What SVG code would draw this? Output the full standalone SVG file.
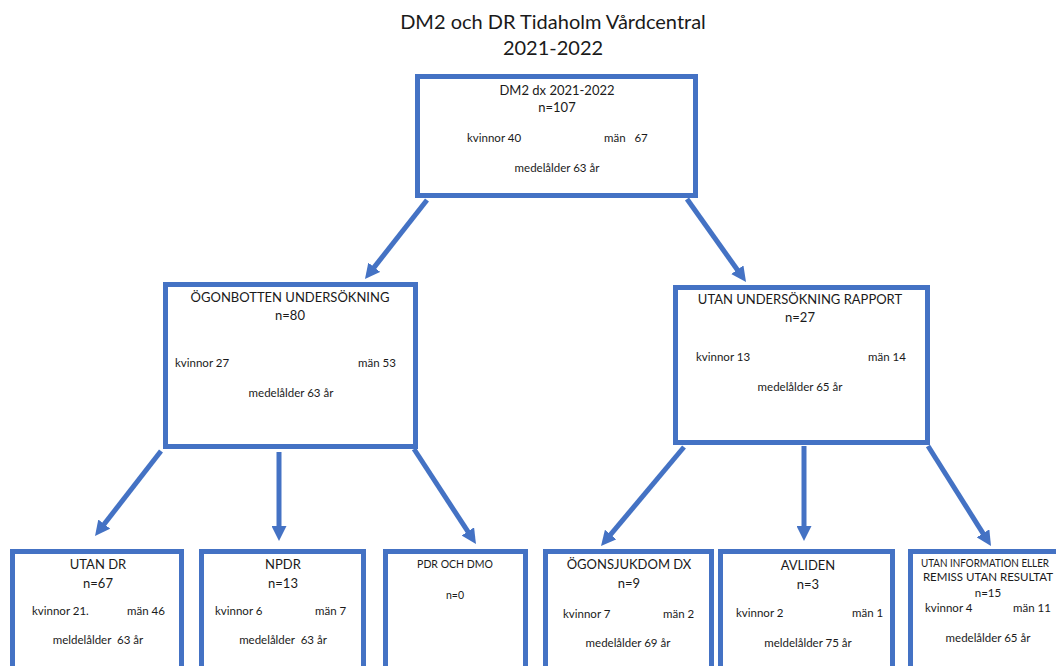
<svg xmlns="http://www.w3.org/2000/svg" width="1056" height="666" viewBox="0 0 1056 666">
<style>
.box{fill:#fff;stroke:#4472C4;stroke-width:5}
.t{font-family:Lato,"Open Sans","Liberation Sans",sans-serif;fill:#1a1a1a;white-space:pre}
.c{text-anchor:middle}
.s{font-size:11.5px}
.m{font-size:13px}
.conn{stroke:#4472C4;stroke-width:5;fill:none;marker-end:url(#ah)}
</style>
<defs>
<marker id="ah" viewBox="0 0 10 10" refX="1" refY="5" markerWidth="3" markerHeight="3" orient="auto" markerUnits="strokeWidth">
<path d="M0,0 L10,5 L0,10 z" fill="#4472C4"/>
</marker>
</defs>
<rect width="1056" height="666" fill="#fff"/>
<g id="title">
<text class="t c" x="553" y="29" font-size="20">DM2 och DR Tidaholm Vårdcentral</text>
<text class="t c" x="553" y="55" font-size="20">2021-2022</text>
</g>
<g id="connectors">
<path class="conn" d="M427,200 L373.3,268.4"/>
<path class="conn" d="M687,199 L738.2,271"/>
<path class="conn" d="M161,451 L103.3,525.3"/>
<path class="conn" d="M279,452 L279,527.5"/>
<path class="conn" d="M414,449 L468.6,532.7"/>
<path class="conn" d="M684,447 L609.7,535.7"/>
<path class="conn" d="M804,446 L804,527.5"/>
<path class="conn" d="M928,446 L983.8,534.6"/>
</g>
<g id="n-root">
<rect class="box" x="417.5" y="76.5" width="278" height="119"/>
<text class="t c m" x="557" y="95">DM2 dx 2021-2022</text>
<text class="t c m" x="557" y="112">n=107</text>
<text class="t s" x="467" y="142">kvinnor 40</text>
<text class="t s" x="604" y="142">män   67</text>
<text class="t c s" x="557" y="172">medelålder 63 år</text>
</g>
<g id="n-ogon">
<rect class="box" x="165.5" y="284.5" width="250" height="162"/>
<text class="t c m" x="290" y="302">ÖGONBOTTEN UNDERSÖKNING</text>
<text class="t c m" x="290" y="320">n=80</text>
<text class="t s" x="175" y="367">kvinnor 27</text>
<text class="t s" x="358" y="367">män 53</text>
<text class="t c s" x="291" y="397">medelålder 63 år</text>
</g>
<g id="n-utanus">
<rect class="box" x="675.5" y="287.5" width="252" height="155"/>
<text class="t c m" x="800" y="304">UTAN UNDERSÖKNING RAPPORT</text>
<text class="t c m" x="800" y="322">n=27</text>
<text class="t s" x="696" y="361">kvinnor 13</text>
<text class="t s" x="868" y="361">män 14</text>
<text class="t c s" x="800" y="391">medelålder 65 år</text>
</g>
<g id="n-utandr">
<rect class="box" x="12.5" y="551.5" width="169" height="130"/>
<text class="t c m" x="98" y="569">UTAN DR</text>
<text class="t c m" x="98" y="588">n=67</text>
<text class="t s" x="32" y="615">kvinnor 21.</text>
<text class="t s" x="127" y="615">män 46</text>
<text class="t c s" x="98" y="644">meldelålder  63 år</text>
</g>
<g id="n-npdr">
<rect class="box" x="201.5" y="551.5" width="162" height="130"/>
<text class="t c m" x="283" y="569">NPDR</text>
<text class="t c m" x="283" y="588">n=13</text>
<text class="t s" x="215" y="615">kvinnor 6</text>
<text class="t s" x="315" y="615">män 7</text>
<text class="t c s" x="283" y="644">medelålder  63 år</text>
</g>
<g id="n-pdr">
<rect class="box" x="385.5" y="551.5" width="140" height="130"/>
<text class="t c" x="455" y="568" font-size="10.5">PDR OCH DMO</text>
<text class="t c" x="455" y="599" font-size="10.5">n=0</text>
</g>
<g id="n-ogonsj">
<rect class="box" x="545.5" y="551.5" width="166" height="130"/>
<text class="t c m" x="629" y="569">ÖGONSJUKDOM DX</text>
<text class="t c m" x="629" y="588">n=9</text>
<text class="t s" x="563" y="618">kvinnor 7</text>
<text class="t s" x="663" y="618">män 2</text>
<text class="t c s" x="628" y="647">medelålder 69 år</text>
</g>
<g id="n-avliden">
<rect class="box" x="720.5" y="551.5" width="172" height="130"/>
<text class="t c m" x="808" y="570">AVLIDEN</text>
<text class="t c m" x="808" y="589">n=3</text>
<text class="t s" x="736" y="617">kvinnor 2</text>
<text class="t s" x="852" y="617">män 1</text>
<text class="t c s" x="808" y="647">meldelålder 75 år</text>
</g>
<g id="n-utaninfo">
<rect class="box" x="910.5" y="551.5" width="160" height="130"/>
<text class="t" x="921" y="567" font-size="10.5px" textLength="128" lengthAdjust="spacingAndGlyphs">UTAN INFORMATION ELLER</text>
<text class="t c s" x="988" y="581">REMISS UTAN RESULTAT</text>
<text class="t c s" x="988" y="597">n=15</text>
<text class="t s" x="925" y="612">kvinnor 4</text>
<text class="t s" x="1013" y="612">män 11</text>
<text class="t c s" x="988" y="642">medelålder 65 år</text>
</g>
</svg>
